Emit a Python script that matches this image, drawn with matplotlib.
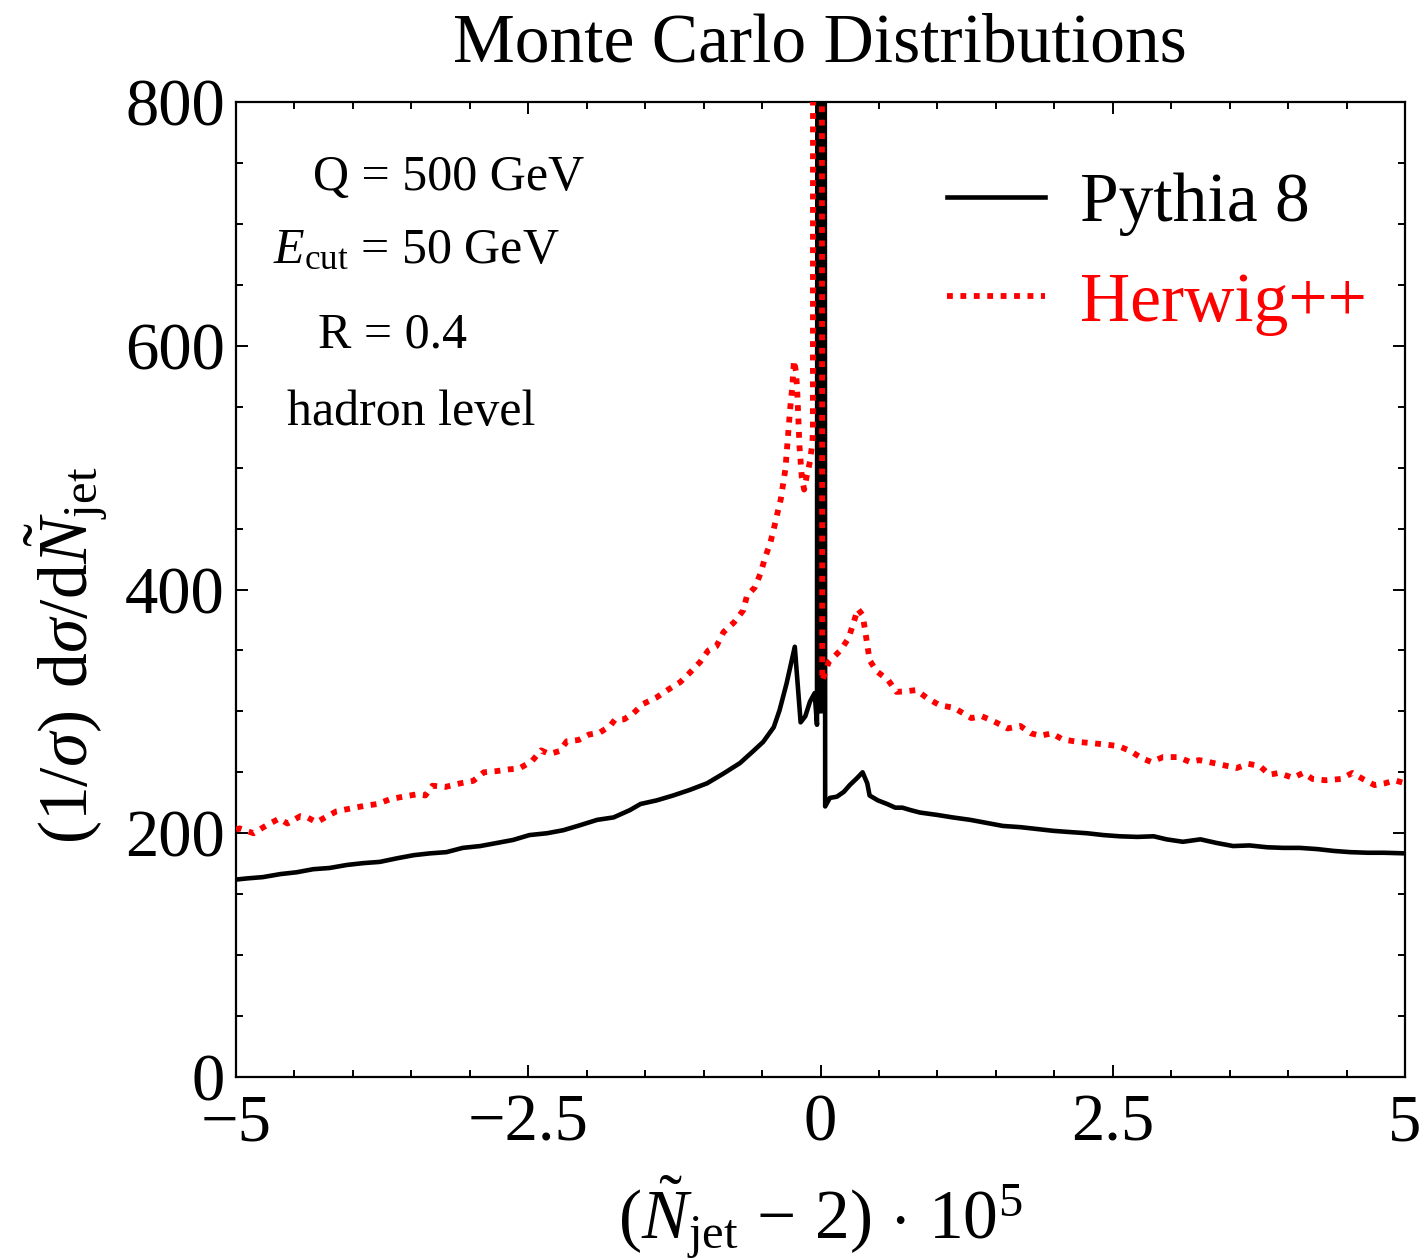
import matplotlib
matplotlib.use("Agg")
import matplotlib.pyplot as plt
from matplotlib.ticker import FixedLocator, MultipleLocator, FixedFormatter

plt.rcParams['font.family'] = ['Liberation Serif', 'DejaVu Serif']
plt.rcParams['mathtext.fontset'] = 'custom'
plt.rcParams['mathtext.rm'] = 'Liberation Serif'
plt.rcParams['mathtext.it'] = 'Liberation Serif:italic'
plt.rcParams['mathtext.bf'] = 'Liberation Serif:bold'

# ---------------- data ----------------
pythia_x = [-5.00, -4.90, -4.77, -4.62, -4.48, -4.34, -4.20, -4.05, -3.91, -3.77,
            -3.62, -3.48, -3.34, -3.20, -3.06, -2.91, -2.77, -2.63, -2.49, -2.34,
            -2.20, -2.06, -1.91, -1.77, -1.63, -1.54, -1.40, -1.26, -1.12, -0.97,
            -0.83, -0.69, -0.58, -0.49, -0.40, -0.35, -0.29, -0.22, -0.17, -0.13,
            -0.09, -0.05, -0.03, -0.02, -0.01, 0.00, 0.01, 0.02, 0.03, 0.04,
            0.08, 0.14, 0.20, 0.25, 0.31, 0.36, 0.40, 0.42, 0.49, 0.57,
            0.64, 0.70, 0.77, 0.85, 1.00, 1.13, 1.28, 1.42, 1.56, 1.71,
            1.85, 1.99, 2.13, 2.28, 2.42, 2.56, 2.71, 2.85, 2.96, 3.10,
            3.25, 3.39, 3.53, 3.67, 3.82, 3.96, 4.10, 4.25, 4.39, 4.53,
            4.68, 4.82, 5.00]
pythia_y = [162, 163, 164, 166.5, 168, 170.5, 171.5, 174, 175.5, 176.5,
            179.5, 182, 183.5, 184.5, 188, 189.5, 192, 194.5, 198.5, 200,
            202.5, 206.5, 211, 213, 219, 224, 227, 231, 235.5, 241,
            249, 257.5, 267, 275, 287, 301, 323, 353, 291, 296,
            308, 315, 289, 2000, 300, 2000, 300, 2000, 2000, 222,
            229, 230, 234, 239.5, 245, 250, 241, 231, 227, 224,
            221, 221, 219, 217, 215, 213, 211, 208.5, 206, 205,
            203.5, 202, 201, 200, 198.5, 197.5, 197, 197.5, 195, 193,
            195, 192, 189.5, 190, 188.5, 188, 188, 187, 185.5, 184.5,
            184, 184, 183.5]

herwig_x = [-5.00, -4.97, -4.85, -4.73, -4.63, -4.56, -4.45, -4.39, -4.31, -4.22,
            -4.14, -4.01, -3.90, -3.79, -3.68, -3.57, -3.45, -3.38, -3.32, -3.21,
            -3.08, -2.97, -2.88, -2.77, -2.66, -2.58, -2.47, -2.39, -2.32, -2.23,
            -2.17, -2.07, -1.98, -1.89, -1.80, -1.76, -1.68, -1.60, -1.52, -1.41,
            -1.30, -1.20, -1.12, -1.03, -0.96, -0.89, -0.83, -0.74, -0.66, -0.63,
            -0.56, -0.51, -0.475, -0.43, -0.40, -0.37, -0.34, -0.32, -0.30, -0.28,
            -0.26, -0.24, -0.227, -0.21, -0.20, -0.19, -0.18, -0.17, -0.16, -0.14,
            -0.12, -0.09, -0.07, -0.065, -0.06, 0.005, 0.015, 0.07, 0.17, 0.24,
            0.28, 0.32, 0.36, 0.38, 0.40, 0.42, 0.48, 0.58, 0.65, 0.73,
            0.82, 0.91, 1.02, 1.14, 1.22, 1.29, 1.38, 1.48, 1.60, 1.71,
            1.80, 1.88, 1.98, 2.07, 2.20, 2.31, 2.42, 2.55, 2.65, 2.75,
            2.83, 2.93, 3.06, 3.16, 3.24, 3.32, 3.44, 3.56, 3.66, 3.76,
            3.84, 3.92, 4.04, 4.13, 4.21, 4.32, 4.45, 4.55, 4.64, 4.74,
            4.83, 4.91, 5.00]
herwig_y = [203, 204, 200, 207, 212, 208, 214, 213, 209, 214,
            218, 220.5, 222.5, 224, 228, 230, 232, 231, 239, 238,
            241, 243, 250, 251, 252.5, 253, 259, 268, 265, 267.5,
            275.5, 276.5, 281, 282.5, 288, 293, 293.5, 298.5, 306, 311,
            318, 324, 331.5, 340.5, 350, 353.5, 365, 373, 383, 394.5,
            402, 414, 426, 438, 449.5, 462, 474, 486.5, 499, 523,
            548, 568, 588, 579, 565, 542, 518, 505, 492, 482,
            492, 505, 520, 530, 2000, 2000, 325, 340.5, 350, 360,
            372, 384, 379, 367.5, 354.5, 342, 333, 325.5, 316, 316.5,
            317.5, 311, 305, 303, 298.5, 294.5, 296, 292, 286, 288,
            282, 280, 282, 277, 275, 274, 273, 271.5, 267.5, 261.5,
            258.5, 262.5, 262.5, 258.5, 260, 258.5, 256, 253.5, 257, 255,
            248, 249.5, 245.5, 249.5, 244.5, 243.5, 244.5, 249.5, 244.5, 239.5,
            241, 243.5, 241]

x_major = [-5, -2.5, 0, 2.5, 5]
x_labels = ['\u22125', '\u22122.5', '0', '2.5', '5']
y_major = [0, 200, 400, 600, 800]
y_labels = ['0', '200', '400', '600', '800']

W, H = 1423, 1260
fig = plt.figure(figsize=(W / 100, H / 100), dpi=100)
ax = fig.add_axes([236 / W, 1 - 1077 / H, (1405 - 236) / W, (1077 - 102) / H])

ax.plot(pythia_x, pythia_y, color='black', lw=3.3, solid_joinstyle='round',
        label='Pythia 8', zorder=2)
ax.plot(herwig_x, herwig_y, color='#ff0000', lw=4.2, linestyle=(0, (1, 1.3)),
        dash_capstyle='butt', label='Herwig++', zorder=3)

ax.set_xlim(-5, 5)
ax.set_ylim(0, 800)
ax.xaxis.set_major_locator(FixedLocator(x_major))
ax.xaxis.set_major_formatter(FixedFormatter(x_labels))
ax.xaxis.set_minor_locator(MultipleLocator(0.5))
ax.yaxis.set_major_locator(FixedLocator(y_major))
ax.yaxis.set_major_formatter(FixedFormatter(y_labels))
ax.yaxis.set_minor_locator(MultipleLocator(50))
ax.tick_params(which='both', direction='in', top=True, right=True, width=1.4,
               labelsize=48)
ax.tick_params(which='major', length=8.5)
ax.tick_params(which='minor', length=5)
ax.tick_params(axis='x', which='major', pad=12)
ax.tick_params(axis='y', which='major', pad=8)
for s in ax.spines.values():
    s.set_linewidth(1.6)

leg = ax.legend(loc='upper left', bbox_to_anchor=(0.608, 0.928), frameon=False,
                fontsize=50, handlelength=1.42, handletextpad=0.5,
                labelspacing=0.52, borderaxespad=0, borderpad=0)
for t, c in zip(leg.get_texts(), ['black', '#ff0000']):
    t.set_color(c)

def fx(px):
    return px / W

def fy(py):
    return 1 - py / H

fig.text(fx(820), fy(62), 'Monte Carlo Distributions', fontsize=50,
         ha='center', va='baseline')
fig.text(fx(313), fy(190), 'Q = 500 GeV', fontsize=36, ha='left', va='baseline')
fig.text(fx(273), fy(263), r'$E_{\mathrm{cut}}$ = 50 GeV', fontsize=36,
         ha='left', va='baseline')
fig.text(fx(318), fy(348), 'R = 0.4', fontsize=36, ha='left', va='baseline')
fig.text(fx(287), fy(425), 'hadron level', fontsize=36, ha='left', va='baseline')

fig.text(fx(66), fy(655),
         r'$(1/\sigma)\;\,\mathrm{d}\sigma/\mathrm{d}\tilde{N}_{\mathrm{jet}}$',
         fontsize=50, rotation=90, ha='center', va='center')
fig.text(fx(820), fy(1238),
         r'$(\tilde{N}_{\mathrm{jet}}\,-\,2)\,\cdot\,10^{5}$',
         fontsize=50, ha='center', va='baseline')

fig.savefig('out.png', dpi=100)
